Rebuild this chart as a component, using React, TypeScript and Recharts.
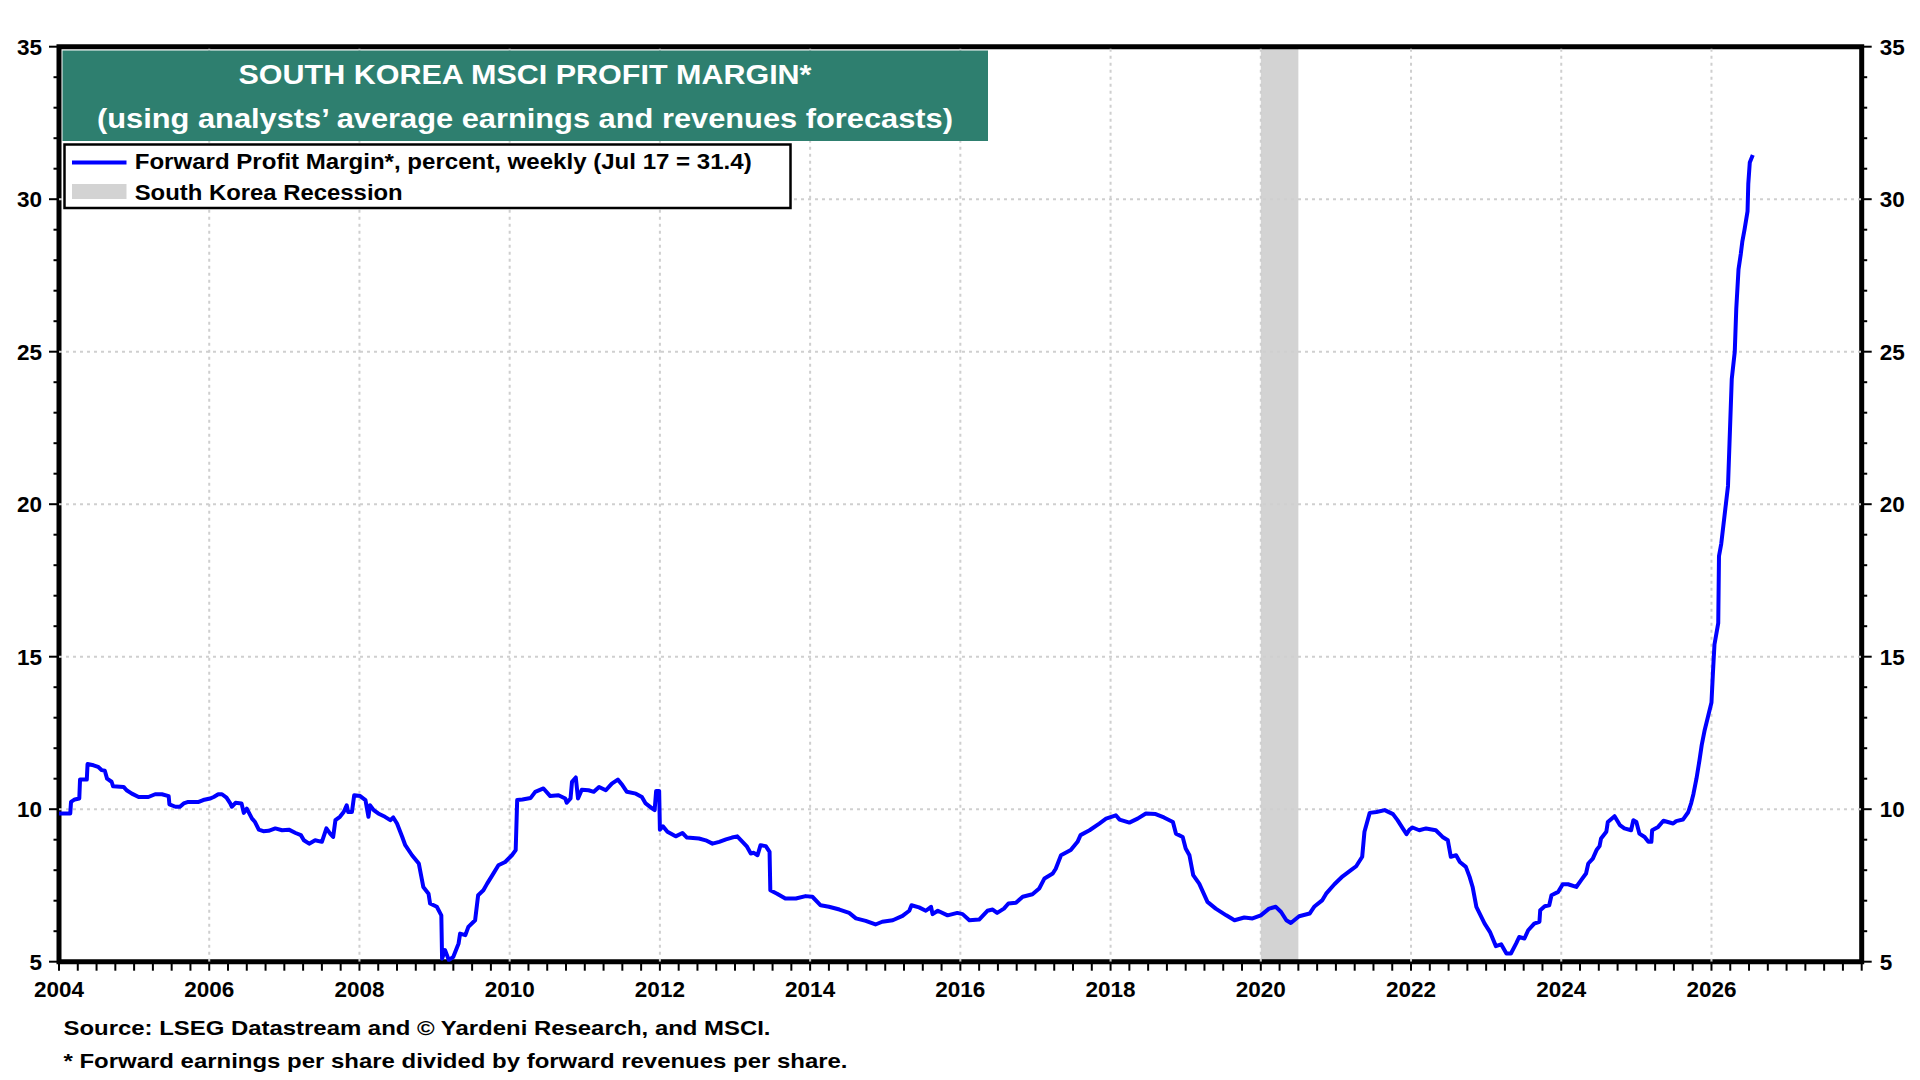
import React from 'react';
import { ComposedChart, Line, XAxis, YAxis, ReferenceArea, ReferenceLine } from 'recharts';

// ---- data (decimal year, forward profit margin %) ----
const years = [
  2004.00, 2004.15, 2004.16, 2004.21, 2004.27, 2004.28, 2004.37, 2004.38, 2004.46, 2004.52,
  2004.57, 2004.61, 2004.64, 2004.70, 2004.72, 2004.86, 2004.90, 2004.97, 2005.06, 2005.19,
  2005.28, 2005.37, 2005.46, 2005.47, 2005.55, 2005.61, 2005.66, 2005.72, 2005.86, 2005.92,
  2006.01, 2006.06, 2006.12, 2006.17, 2006.23, 2006.28, 2006.30, 2006.35, 2006.43, 2006.46,
  2006.50, 2006.57, 2006.61, 2006.66, 2006.72, 2006.79, 2006.88, 2006.97, 2007.06, 2007.15,
  2007.22, 2007.26, 2007.33, 2007.41, 2007.50, 2007.56, 2007.61, 2007.65, 2007.68, 2007.74,
  2007.79, 2007.83, 2007.85, 2007.90, 2007.93, 2008.01, 2008.08, 2008.12, 2008.14, 2008.19,
  2008.25, 2008.34, 2008.41, 2008.45, 2008.50, 2008.57, 2008.61, 2008.70, 2008.79, 2008.85,
  2008.92, 2008.94, 2009.03, 2009.09, 2009.10, 2009.14, 2009.19, 2009.25, 2009.32, 2009.34,
  2009.41, 2009.45, 2009.54, 2009.58, 2009.65, 2009.70, 2009.77, 2009.85, 2009.94, 2010.03,
  2010.08, 2010.10, 2010.17, 2010.28, 2010.34, 2010.45, 2010.54, 2010.65, 2010.74, 2010.76,
  2010.81, 2010.83, 2010.88, 2010.91, 2010.96, 2011.05, 2011.12, 2011.19, 2011.28, 2011.36,
  2011.44, 2011.50, 2011.56, 2011.68, 2011.76, 2011.81, 2011.90, 2011.93, 2011.95, 2011.99,
  2012.00, 2012.04, 2012.10, 2012.21, 2012.30, 2012.36, 2012.52, 2012.61, 2012.70, 2012.79,
  2012.88, 2012.96, 2013.03, 2013.10, 2013.16, 2013.21, 2013.25, 2013.30, 2013.34, 2013.41,
  2013.46, 2013.47, 2013.56, 2013.67, 2013.81, 2013.94, 2014.03, 2014.14, 2014.25, 2014.39,
  2014.52, 2014.61, 2014.74, 2014.87, 2014.96, 2015.10, 2015.23, 2015.32, 2015.35, 2015.45,
  2015.54, 2015.61, 2015.63, 2015.70, 2015.83, 2015.96, 2016.03, 2016.12, 2016.25, 2016.36,
  2016.43, 2016.49, 2016.58, 2016.64, 2016.74, 2016.83, 2016.96, 2017.05, 2017.12, 2017.23,
  2017.27, 2017.34, 2017.47, 2017.56, 2017.60, 2017.72, 2017.85, 2017.94, 2018.07, 2018.12,
  2018.25, 2018.36, 2018.47, 2018.60, 2018.71, 2018.83, 2018.87, 2018.96, 2019.00, 2019.05,
  2019.10, 2019.18, 2019.29, 2019.40, 2019.54, 2019.65, 2019.78, 2019.89, 2020.00, 2020.11,
  2020.20, 2020.27, 2020.34, 2020.40, 2020.51, 2020.65, 2020.71, 2020.82, 2020.87, 2020.98,
  2021.09, 2021.20, 2021.27, 2021.35, 2021.38, 2021.45, 2021.54, 2021.65, 2021.76, 2021.82,
  2021.89, 2021.94, 2021.98, 2022.02, 2022.11, 2022.20, 2022.33, 2022.42, 2022.49, 2022.53,
  2022.60, 2022.65, 2022.73, 2022.78, 2022.82, 2022.87, 2022.98, 2023.05, 2023.13, 2023.20,
  2023.27, 2023.33, 2023.40, 2023.44, 2023.51, 2023.56, 2023.64, 2023.71, 2023.72, 2023.78,
  2023.84, 2023.87, 2023.96, 2024.02, 2024.09, 2024.20, 2024.27, 2024.33, 2024.36, 2024.42,
  2024.47, 2024.51, 2024.53, 2024.60, 2024.62, 2024.71, 2024.78, 2024.84, 2024.93, 2024.96,
  2025.00, 2025.04, 2025.11, 2025.16, 2025.20, 2025.21, 2025.29, 2025.36, 2025.49, 2025.53,
  2025.62, 2025.69, 2025.73, 2025.76, 2025.80, 2025.84, 2025.87, 2025.91, 2025.96, 2026.00,
  2026.02, 2026.04, 2026.09, 2026.10, 2026.13, 2026.22, 2026.24, 2026.27, 2026.31, 2026.33,
  2026.36, 2026.39, 2026.41, 2026.44, 2026.48, 2026.49, 2026.51, 2026.55,
];

const profitMargin = [
  9.86, 9.86, 10.24, 10.32, 10.35, 10.97, 10.97, 11.48, 11.44, 11.39,
  11.28, 11.26, 11.00, 10.90, 10.75, 10.73, 10.62, 10.51, 10.40, 10.40,
  10.49, 10.49, 10.43, 10.16, 10.08, 10.08, 10.19, 10.24, 10.24, 10.30,
  10.35, 10.40, 10.49, 10.49, 10.38, 10.19, 10.08, 10.21, 10.19, 9.88,
  10.02, 9.69, 9.58, 9.33, 9.28, 9.29, 9.37, 9.31, 9.33, 9.22,
  9.15, 8.98, 8.87, 8.98, 8.93, 9.37, 9.20, 9.09, 9.64, 9.75,
  9.91, 10.13, 9.91, 9.91, 10.46, 10.43, 10.30, 9.75, 10.13, 9.97,
  9.86, 9.75, 9.64, 9.73, 9.53, 9.09, 8.82, 8.49, 8.22, 7.45,
  7.23, 6.91, 6.80, 6.52, 5.10, 5.38, 5.05, 5.16, 5.60, 5.92,
  5.87, 6.14, 6.36, 7.18, 7.34, 7.56, 7.84, 8.16, 8.27, 8.49,
  8.66, 10.30, 10.32, 10.37, 10.57, 10.68, 10.43, 10.46, 10.35, 10.21,
  10.35, 10.90, 11.04, 10.35, 10.64, 10.62, 10.57, 10.73, 10.62, 10.84,
  10.97, 10.79, 10.57, 10.51, 10.40, 10.19, 10.02, 9.97, 10.60, 10.60,
  9.33, 9.44, 9.26, 9.11, 9.22, 9.07, 9.04, 8.98, 8.87, 8.93,
  9.01, 9.07, 9.11, 8.93, 8.77, 8.55, 8.57, 8.49, 8.82, 8.79,
  8.60, 7.34, 7.23, 7.07, 7.07, 7.15, 7.13, 6.85, 6.80, 6.71,
  6.60, 6.42, 6.34, 6.22, 6.31, 6.36, 6.50, 6.67, 6.85, 6.78,
  6.67, 6.80, 6.56, 6.67, 6.52, 6.60, 6.56, 6.36, 6.38, 6.67,
  6.71, 6.60, 6.74, 6.91, 6.93, 7.13, 7.21, 7.40, 7.73, 7.89,
  8.05, 8.49, 8.66, 8.93, 9.15, 9.31, 9.53, 9.69, 9.80, 9.66,
  9.56, 9.69, 9.86, 9.84, 9.73, 9.58, 9.20, 9.09, 8.71, 8.49,
  7.84, 7.56, 6.96, 6.74, 6.52, 6.36, 6.45, 6.42, 6.52, 6.74,
  6.80, 6.63, 6.36, 6.27, 6.49, 6.58, 6.80, 7.02, 7.23, 7.54,
  7.80, 8.00, 8.13, 8.44, 9.26, 9.88, 9.91, 9.97, 9.84, 9.64,
  9.37, 9.18, 9.33, 9.40, 9.31, 9.37, 9.31, 9.09, 8.98, 8.44,
  8.49, 8.27, 8.11, 7.78, 7.45, 6.80, 6.25, 5.98, 5.51, 5.57,
  5.27, 5.27, 5.60, 5.81, 5.76, 6.03, 6.25, 6.31, 6.69, 6.82,
  6.85, 7.18, 7.29, 7.54, 7.54, 7.45, 7.69, 7.89, 8.22, 8.38,
  8.66, 8.79, 9.04, 9.26, 9.58, 9.77, 9.48, 9.37, 9.31, 9.64,
  9.58, 9.20, 9.09, 8.93, 8.93, 9.31, 9.42, 9.62, 9.53, 9.61,
  9.66, 9.90, 10.20, 10.50, 11.00, 11.60, 12.10, 12.60, 13.10, 13.50,
  14.50, 15.40, 16.10, 18.30, 18.70, 20.60, 22.00, 24.10, 25.00, 26.40,
  27.70, 28.20, 28.60, 29.00, 29.60, 30.50, 31.20, 31.45,
];

const recession = { start: 2020.0, end: 2020.5 };

const yTicks = Array.from({ length: 31 }, (_, i) => 5 + i);
const yLabelValues = [5, 10, 15, 20, 25, 30, 35];
const xTicks = Array.from({ length: 97 }, (_, i) => 2004 + i * 0.25);
const xLabelYears = [2004, 2006, 2008, 2010, 2012, 2014, 2016, 2018, 2020, 2022, 2024, 2026];
const gridYears = [2006, 2008, 2010, 2012, 2014, 2016, 2018, 2020, 2022, 2024, 2026];
const gridValues = [10, 15, 20, 25, 30];

const titleLines = [
  'SOUTH KOREA MSCI PROFIT MARGIN*',
  '(using analysts\u2019 average earnings and revenues forecasts)',
];
const legendLabels = [
  'Forward Profit Margin*, percent, weekly (Jul 17 = 31.4)',
  'South Korea Recession',
];
const footLines = [
  'Source: LSEG Datastream and \u00A9 Yardeni Research, and MSCI.',
  '* Forward earnings per share divided by forward revenues per share.',
];

const data = years.map((t, i) => ({ t, v: profitMargin[i] }));

const FONT = '"Liberation Sans", Arial, Helvetica, sans-serif';
const TEAL = '#2E7F6F';
const BLUE = '#0000FF';
const GRID = '#CFCFCF';

const LeftTick = (props: any) => {
  const { x, y, payload } = props;
  const v = payload.value;
  const major = yLabelValues.includes(v);
  return (
    <g>
      <line x1={x} x2={x - (major ? 10 : 5.5)} y1={y} y2={y} stroke="#000" strokeWidth={2} />
      {major && (
        <text x={x - 17} y={y + 8} textAnchor="end" fontSize={22.5} fontWeight="bold" fontFamily={FONT} fill="#000">
          {v}
        </text>
      )}
    </g>
  );
};

const RightTick = (props: any) => {
  const { x, y, payload } = props;
  const v = payload.value;
  const major = yLabelValues.includes(v);
  return (
    <g>
      <line x1={x} x2={x + (major ? 10 : 5.5)} y1={y} y2={y} stroke="#000" strokeWidth={2} />
      {major && (
        <text x={x + 18} y={y + 8} textAnchor="start" fontSize={22.5} fontWeight="bold" fontFamily={FONT} fill="#000">
          {v}
        </text>
      )}
    </g>
  );
};

const BottomTick = (props: any) => {
  const { x, y, payload } = props;
  const v = payload.value;
  const label = xLabelYears.includes(v);
  return (
    <g>
      <line x1={x} x2={x} y1={y} y2={y + 9} stroke="#000" strokeWidth={2} />
      {label && (
        <text x={x} y={y + 35} textAnchor="middle" fontSize={22.5} fontWeight="bold" fontFamily={FONT} fill="#000">
          {v}
        </text>
      )}
    </g>
  );
};

export default function App() {
  return (
    <div style={{ position: 'absolute', left: 0, top: 0, width: 1920, height: 1080, background: '#fff' }}>
      <ComposedChart
        width={1920}
        height={1080}
        data={data}
        margin={{ top: 46.7, right: 8, bottom: 78.3, left: 9 }}
      >
        <XAxis
          dataKey="t"
          type="number"
          domain={[2004, 2028]}
          ticks={xTicks}
          interval={0}
          tickSize={0}
          tickMargin={0}
          height={40}
          axisLine={false}
          tickLine={false}
          tick={<BottomTick />}
          allowDataOverflow
        />
        <YAxis
          yAxisId="left"
          orientation="left"
          type="number"
          domain={[5, 35]}
          ticks={yTicks}
          interval={0}
          width={50}
          tickSize={0}
          tickMargin={0}
          axisLine={false}
          tickLine={false}
          tick={<LeftTick />}
          allowDataOverflow
        />
        <YAxis
          yAxisId="right"
          orientation="right"
          type="number"
          domain={[5, 35]}
          ticks={yTicks}
          interval={0}
          width={50.3}
          tickSize={0}
          tickMargin={0}
          axisLine={false}
          tickLine={false}
          tick={<RightTick />}
          allowDataOverflow
        />
        <ReferenceArea
          yAxisId="left"
          x1={recession.start}
          x2={recession.end}
          y1={5}
          y2={35}
          fill="#D3D3D3"
          fillOpacity={1}
          stroke="none"
        />
        {gridYears.map((yr) => (
          <ReferenceLine key={'gx' + yr} yAxisId="left" x={yr} stroke={GRID} strokeWidth={2} strokeDasharray="3 4" />
        ))}
        {gridValues.map((v) => (
          <ReferenceLine key={'gy' + v} yAxisId="left" y={v} stroke={GRID} strokeWidth={2} strokeDasharray="3 4" />
        ))}
        <Line
          yAxisId="left"
          type="linear"
          dataKey="v"
          stroke={BLUE}
          strokeWidth={4}
          strokeLinejoin="round"
          dot={false}
          isAnimationActive={false}
        />
        <ReferenceArea
          yAxisId="left"
          x1={2004}
          x2={2028}
          y1={5}
          y2={35}
          fill="none"
          stroke="#000"
          strokeWidth={5}
          ifOverflow="visible"
        />
      </ComposedChart>

      <svg
        width={1920}
        height={1080}
        style={{ position: 'absolute', left: 0, top: 0, pointerEvents: 'none' }}
      >
        <rect x={62.5} y={50.5} width={925.5} height={90.5} fill={TEAL} />
        <text x={525} y={84} textAnchor="middle" fontSize={27} fontWeight="bold" fontFamily={FONT} fill="#fff"
          textLength={573} lengthAdjust="spacingAndGlyphs">
          {titleLines[0]}
        </text>
        <text x={525} y={127.5} textAnchor="middle" fontSize={27} fontWeight="bold" fontFamily={FONT} fill="#fff"
          textLength={856} lengthAdjust="spacingAndGlyphs">
          {titleLines[1]}
        </text>

        <rect x={64.5} y={144.5} width={726} height={63.5} fill="#fff" stroke="#000" strokeWidth={2.5} />
        <line x1={72} x2={126.5} y1={162.5} y2={162.5} stroke={BLUE} strokeWidth={4} />
        <text x={134.7} y={168.5} fontSize={22} fontWeight="bold" fontFamily={FONT} fill="#000"
          textLength={617} lengthAdjust="spacingAndGlyphs">
          {legendLabels[0]}
        </text>
        <rect x={72} y={184} width={54.5} height={15} fill="#D3D3D3" />
        <text x={134.7} y={200} fontSize={22} fontWeight="bold" fontFamily={FONT} fill="#000"
          textLength={268} lengthAdjust="spacingAndGlyphs">
          {legendLabels[1]}
        </text>

        <text x={63.5} y={1035} fontSize={21} fontWeight="bold" fontFamily={FONT} fill="#000"
          textLength={707} lengthAdjust="spacingAndGlyphs">
          {footLines[0]}
        </text>
        <text x={63.5} y={1068} fontSize={21} fontWeight="bold" fontFamily={FONT} fill="#000"
          textLength={784} lengthAdjust="spacingAndGlyphs">
          {footLines[1]}
        </text>
      </svg>
    </div>
  );
}
